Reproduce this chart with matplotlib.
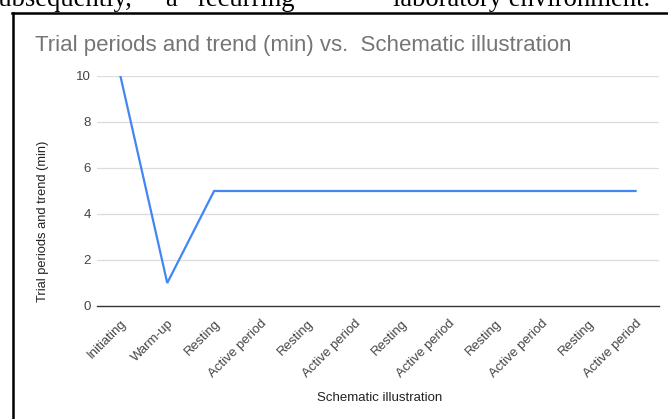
import matplotlib
matplotlib.use("Agg")
import matplotlib.pyplot as plt
from matplotlib.lines import Line2D
from matplotlib.transforms import ScaledTranslation

# Chart data
categories = ["Initiating", "Warm-up", "Resting", "Active period", "Resting",
              "Active period", "Resting", "Active period", "Resting",
              "Active period", "Resting", "Active period"]
trial_minutes = [10, 1, 5, 5, 5, 5, 5, 5, 5, 5, 5, 5]
y_ticks = [0, 2, 4, 6, 8, 10]

W, H = 668, 419
fig = plt.figure(figsize=(W / 100, H / 100), dpi=100)
fig.patch.set_facecolor("white")

# Body text line running above the chart frame
serif = ["Liberation Serif", "DejaVu Serif"]
for word, x in [("subsequently,", -11), ("a", 165), ("recurring", 197),
                ("laboratory environment.", 393)]:
    fig.text(x / W, 1 - 6.5 / H, word, family=serif, fontsize=19.2,
             color="black", ha="left", va="baseline")

# Frame around the chart
fig.add_artist(Line2D([13 / W, 13 / W], [0, 1 - 13.5 / H],
                      transform=fig.transFigure, color="black", lw=1.8))
fig.add_artist(Line2D([12 / W, 1], [1 - 13.5 / H, 1 - 13.5 / H],
                      transform=fig.transFigure, color="black", lw=1.8))

sans = ["Liberation Sans", "DejaVu Sans"]

left, right, top, bottom = 97, 659, 76, 306
ax = fig.add_axes([left / W, 1 - bottom / H, (right - left) / W, (bottom - top) / H])
ax.set_facecolor("none")

x = list(range(len(categories)))
ax.plot(x, trial_minutes, color="#4285F4", lw=1.6, solid_joinstyle="miter", zorder=3)

ax.set_xlim(-0.5, len(categories) - 0.5)
ax.set_ylim(0, 10)
ax.set_yticks(y_ticks)
ax.set_yticklabels([str(v) for v in y_ticks], family=sans, fontsize=9.5, color="#444444")
ax.set_xticks(x)
ax.set_xticklabels(categories, rotation=45, ha="right", va="top", rotation_mode="anchor",
                   family=sans, fontsize=9.5, color="#444444")
shift = ScaledTranslation(7 / 100, 0, fig.dpi_scale_trans)
for lbl in ax.get_xticklabels():
    lbl.set_transform(lbl.get_transform() + shift)
ax.tick_params(axis="both", length=0)
ax.tick_params(axis="y", pad=4.5)
ax.tick_params(axis="x", pad=8)

for v in y_ticks[1:]:
    ax.axhline(v, color="#dcdcdc", lw=0.9, zorder=1)
for s in ["top", "right", "left"]:
    ax.spines[s].set_visible(False)
ax.spines["bottom"].set_color("#333333")
ax.spines["bottom"].set_linewidth(1.0)

ax.set_ylabel("Trial periods and trend (min)", family=sans, fontsize=9.3,
              color="#222222")
ax.yaxis.set_label_coords(-48 / (right - left), (bottom - 221) / (bottom - top))
fig.text(380 / W, 1 - 398 / H, "Schematic illustration", family=sans,
         fontsize=9.5, color="#222222", ha="center", va="center")

fig.text(35 / W, 1 - 45 / H, "Trial periods and trend (min) vs.  Schematic illustration",
         family=sans, fontsize=16, color="#757575", ha="left", va="center")

fig.savefig("out.png", dpi=100)
